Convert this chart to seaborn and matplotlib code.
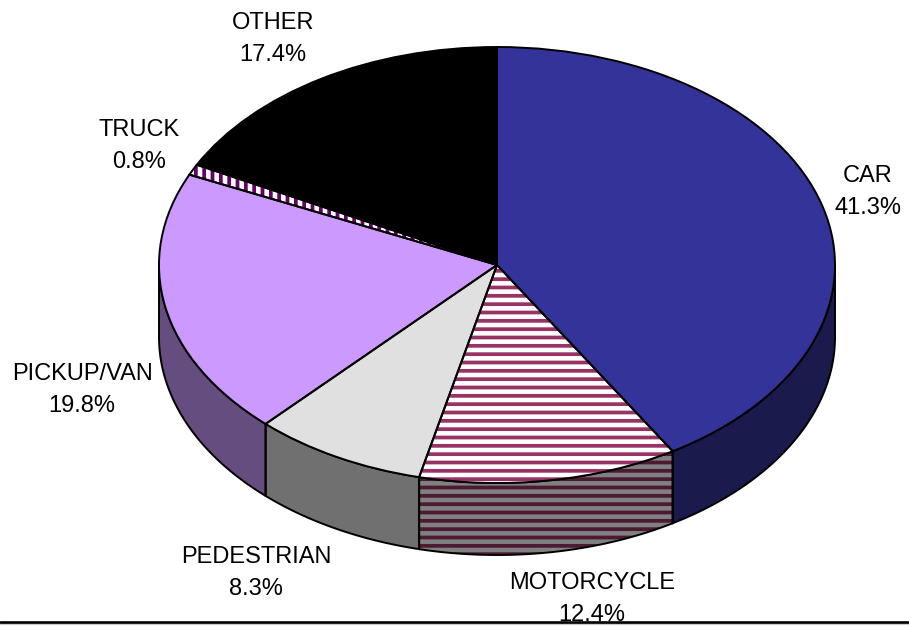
import numpy as np
import matplotlib
matplotlib.use("Agg")
import matplotlib.pyplot as plt
import seaborn as sns

categories = ["CAR", "MOTORCYCLE", "PEDESTRIAN", "PICKUP/VAN", "TRUCK", "OTHER"]
shares = [41.3, 12.4, 8.3, 19.8, 0.8, 17.4]
top_colors = ["#333399", "#ffffff", "#e0e0e0", "#cc99ff", "#ffffff", "#000000"]
wall_colors = ["#1a1a4d", "#808080", "#707070", "#664d80", "#808080", "#000000"]
hatch_colors = [None, "#993366", None, None, "#660066", None]
wall_hatch_colors = [None, "#4d1a33", None, None, None, None]
hatches = [None, "--", None, None, "||", None]

# where the labels sit, in picture pixels
label_pos = [(868, 192), (592, 599), (256, 573), (82, 390), (139, 146), (273, 39)]

sns.set_theme(style="white")
plt.rcParams["font.family"] = ["Liberation Sans", "DejaVu Sans"]
plt.rcParams["hatch.linewidth"] = 2.7

W, H = 909, 626
CX, CY, RX, RY = 497, 265, 338, 218
DEPTH = 72 / RY

fig = plt.figure(figsize=(W / 100, H / 100), dpi=100)
ax = fig.add_axes([0, 0, 1, 1])

top_palette = sns.color_palette(top_colors)

# top of the pie, fills first and then the black outlines over them
wedges, _ = ax.pie(shares, colors=top_palette, startangle=90, counterclock=False,
                   wedgeprops={"linewidth": 0})
for w, hc, h in zip(wedges, hatch_colors, hatches):
    w.set_zorder(3)
    if h:
        w.set_edgecolor(hc)
        w.set_hatch(h)
outlines, _ = ax.pie(shares, colors=top_palette, startangle=90, counterclock=False,
                     wedgeprops={"linewidth": 1.4, "edgecolor": "black", "fill": False})
for w in outlines:
    w.set_zorder(4)

# side wall of the pie, only the front half can be seen
ends = 90 - np.cumsum(shares) * 3.6
starts = np.concatenate([[90], ends[:-1]])
for a_hi, a_lo, col, hc, h in zip(starts, ends, wall_colors, wall_hatch_colors, hatches):
    lo, hi = a_lo % 360, a_hi % 360
    if hi <= lo:
        hi += 360
    lo, hi = max(lo, 180), min(hi, 360)
    if hi <= lo:
        continue
    t = np.radians(np.linspace(lo, hi, 120))
    xs = np.concatenate([np.cos(t), np.cos(t)[::-1]])
    ys = np.concatenate([np.sin(t), np.sin(t)[::-1] - DEPTH])
    if h:
        ax.fill(xs, ys, facecolor=col, edgecolor=hc, hatch=h, linewidth=0, zorder=1)
    else:
        ax.fill(xs, ys, facecolor=col, linewidth=0, zorder=1)
    ax.fill(xs, ys, fill=False, edgecolor="black", linewidth=1.4, zorder=2)

ax.set_aspect("auto")
ax.set_xlim((0 - CX) / RX, (W - CX) / RX)
ax.set_ylim((CY - H) / RY, (CY - 0) / RY)


def to_data(px, py):
    return (px - CX) / RX, (CY - py) / RY


for name, share, (px, py) in zip(categories, shares, label_pos):
    x, y = to_data(px, py)
    ax.text(x, y, f"{name}\n{share:.1f}%", ha="center", va="center", fontsize=17,
            linespacing=1.6, color="black", zorder=5)

# rule along the bottom of the picture, with the grey shadow under it
x0, y0 = to_data(0, 622)
x1, y_shadow = to_data(W, 624)
ax.plot([x0, x1], [y_shadow, y_shadow], color="#c0c0c0", linewidth=1.2, zorder=6, clip_on=False)
ax.plot([x0, x1], [y0, y0], color="black", linewidth=1.9, zorder=7, clip_on=False)

fig.savefig("out.png", dpi=100, facecolor="white")
